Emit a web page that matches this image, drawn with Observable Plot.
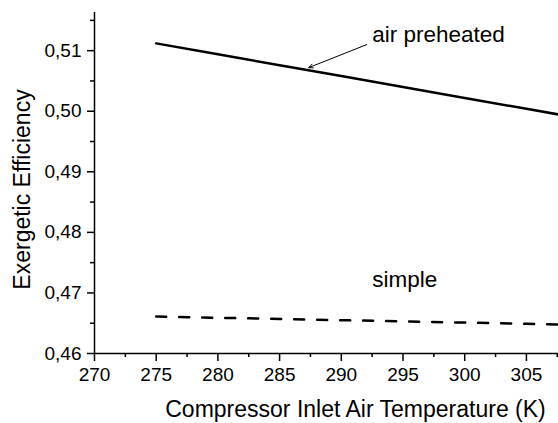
<!DOCTYPE html>
<html>
<head>
<meta charset="utf-8">
<script src="https://cdn.jsdelivr.net/npm/d3@7"></script>
<script src="https://cdn.jsdelivr.net/npm/@observablehq/plot@0.6"></script>
<style>
  html, body { margin: 0; padding: 0; background: #fff; }
  #chart { width: 558px; height: 423px; }
</style>
</head>
<body>
<div id="chart"></div>
<script>
// Data
const temperature = [275, 280, 285, 290, 295, 300, 305, 310];
const airPreheated = [0.5112, 0.5094, 0.5076, 0.5058, 0.5040, 0.5022, 0.5004, 0.4986];
const simple = [0.4661, 0.4659, 0.4657, 0.4655, 0.4653, 0.4651, 0.4649, 0.4647];

const xTicks = [270, 275, 280, 285, 290, 295, 300, 305];
const xMinorTicks = [272.5, 277.5, 282.5, 287.5, 292.5, 297.5, 302.5, 307.5];
const yTicks = [0.46, 0.47, 0.48, 0.49, 0.50, 0.51];
const yMinorTicks = [0.465, 0.475, 0.485, 0.495, 0.505, 0.515];

const labels = [
  {text: "air preheated", x: 292.5, y: 0.5126},
  {text: "simple", x: 292.5, y: 0.4721}
];
const arrows = [{x1: 292.06, y1: 0.5110, x2: 287.36, y2: 0.5072}];

const xTitle = "Compressor Inlet Air Temperature (K)";
const yTitle = "Exergetic Efficiency";

const rows = temperature.map((t, i) => ({t, pre: airPreheated[i], simple: simple[i]}));
const fmtY = d => d.toFixed(2).replace(".", ",");
const font = "'Liberation Sans', Arial, Helvetica, sans-serif";

const chart = Plot.plot({
  width: 558,
  height: 423,
  marginLeft: 94,
  marginRight: 0,
  marginTop: 12,
  marginBottom: 70,
  style: {fontFamily: font, fontSize: "19px", color: "#000", background: "#fff"},
  x: {domain: [270, 307.6]},
  y: {domain: [0.46, 0.5163]},
  marks: [
    Plot.axisX({ticks: xTicks, tickSize: 8, tickPadding: 6, strokeWidth: 1.5, label: null, fontSize: 19}),
    Plot.axisX({ticks: xMinorTicks, tickSize: 4, strokeWidth: 1.5, tickFormat: () => "", label: null}),
    Plot.axisY({ticks: yTicks, tickSize: 7, tickPadding: 6, strokeWidth: 1.5, tickFormat: fmtY, label: null, fontSize: 19}),
    Plot.axisY({ticks: yMinorTicks, tickSize: 4, strokeWidth: 1.5, tickFormat: () => "", label: null}),
    Plot.ruleX([270], {y1: 0.46, y2: 0.5163, strokeWidth: 1.5}),
    Plot.ruleY([0.46], {strokeWidth: 1.5}),
    Plot.line(rows, {x: "t", y: "pre", stroke: "#000", strokeWidth: 2.5, clip: true}),
    Plot.line(rows, {x: "t", y: "simple", stroke: "#000", strokeWidth: 2.5, strokeDasharray: "10,13", clip: true}),
    Plot.arrow(arrows, {x1: "x1", y1: "y1", x2: "x2", y2: "y2", stroke: "#000", strokeWidth: 1, headLength: 7, headAngle: 50}),
    Plot.text(labels, {x: "x", y: "y", text: "text", textAnchor: "start", lineAnchor: "middle", fontSize: 22.5, fill: "#000"}),
    Plot.text([xTitle], {frameAnchor: "bottom", text: d => d, textAnchor: "middle", lineAnchor: "top", dx: 29, dy: 47, fontSize: 23, fill: "#000"}),
    Plot.text([yTitle], {frameAnchor: "left", text: d => d, rotate: -90, textAnchor: "middle", lineAnchor: "top", dx: -81, dy: 6.5, fontSize: 23, fill: "#000"})
  ]
});
document.getElementById("chart").appendChild(chart);
</script>
</body>
</html>
